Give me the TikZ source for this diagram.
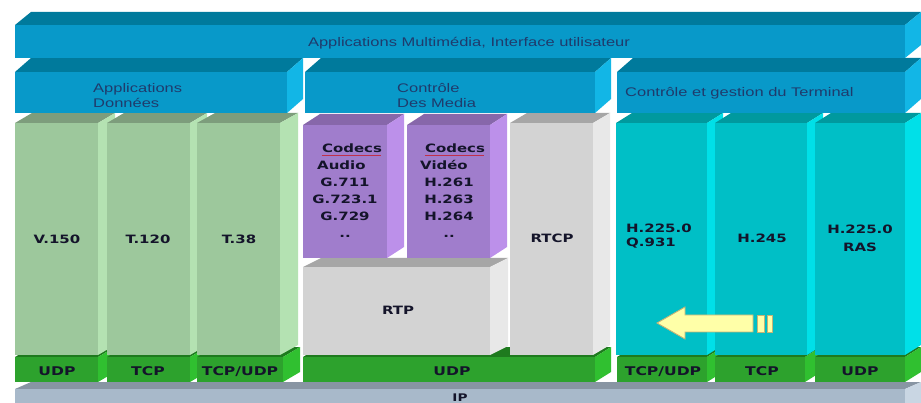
\documentclass[tikz,border=0pt]{standalone}
\usepackage{fontspec}
\newfontfamily\tlab[FakeStretch=1.32]{Liberation Sans}
\newfontfamily\blab[FakeStretch=1.3]{DejaVu Sans}
\definecolor{bluef}{HTML}{0899C9}
\definecolor{bluet}{HTML}{007A9C}
\definecolor{blues}{HTML}{12B6E6}
\definecolor{lgrf}{HTML}{9DC89C}
\definecolor{lgrt}{HTML}{7D9D7C}
\definecolor{lgrs}{HTML}{B4E2B2}
\definecolor{purf}{HTML}{A07DCC}
\definecolor{purt}{HTML}{8767AA}
\definecolor{purs}{HTML}{BC90EA}
\definecolor{gryf}{HTML}{D3D3D3}
\definecolor{gryt}{HTML}{A6A6A6}
\definecolor{grys}{HTML}{E8E8E8}
\definecolor{cyaf}{HTML}{00BFC6}
\definecolor{cyat}{HTML}{00999E}
\definecolor{cyas}{HTML}{00E0E8}
\definecolor{dgrf}{HTML}{2DA22D}
\definecolor{dgrt}{HTML}{1E7A1E}
\definecolor{dgrs}{HTML}{30C030}
\definecolor{ipf}{HTML}{A8B9CA}
\definecolor{ipt}{HTML}{8895A3}
\definecolor{ips}{HTML}{C9D6E3}
\definecolor{navy}{HTML}{1F3B6C}
\definecolor{ink}{HTML}{14142A}
\definecolor{arrowfill}{HTML}{FFFFA8}
\definecolor{arrowline}{HTML}{C4B478}
\definecolor{spell}{HTML}{C0304A}
% 3D slab: x1,y1,x2,y2 (front face), dx,dy (depth), palette
\newcommand\slab[7]{%
  \fill[#7t] (#1,#2) -- ({#1+#5},{#2-#6}) -- ({#3+#5},{#2-#6}) -- (#3,#2) -- cycle;
  \fill[#7s] (#3,#2) -- ({#3+#5},{#2-#6}) -- ({#3+#5},{#4-#6}) -- (#3,#4) -- cycle;
  \fill[#7f] (#1,#2) rectangle (#3,#4);
}
\tikzset{
  tl/.style={font=\tlab\fontsize{12.5}{14}\selectfont, text=navy, inner sep=0pt, anchor=base west},
  bl/.style={font=\blab\bfseries\fontsize{11.5}{13}\selectfont, text=ink, inner sep=0pt, anchor=base},
  gl/.style={bl, font=\blab\bfseries\fontsize{12}{13}\selectfont},
}
\begin{document}
\begin{tikzpicture}[x=1pt,y=-1pt]
\useasboundingbox (0,0) rectangle (921,403);
\clip (0,0) rectangle (921,403);
\fill[white] (0,0) rectangle (921,403);
% IP layer
\slab{15}{389}{905}{420}{16}{7}{ip}
% transport layer
\slab{15}{357}{98}{382}{17}{10}{dgr}
\slab{107}{357}{190}{382}{17}{10}{dgr}
\slab{197}{357}{283}{382}{17}{10}{dgr}
\slab{303}{357}{595}{382}{16}{10}{dgr}
\slab{617}{357}{707}{382}{16}{10}{dgr}
\slab{715}{357}{805}{382}{16}{10}{dgr}
\slab{815}{357}{905}{382}{16}{10}{dgr}
% data columns
\slab{15}{123}{98}{355}{17}{10}{lgr}
\slab{107}{123}{190}{355}{17}{10}{lgr}
\slab{197}{123}{280}{355}{18}{10}{lgr}
% media
\slab{303}{267}{490}{355}{18}{9}{gry}
\slab{303}{125}{387}{258}{17}{11}{pur}
\slab{407}{125}{490}{258}{17}{11}{pur}
\slab{510}{123}{593}{355}{17}{10}{gry}
% terminal
\slab{616}{123}{707}{355}{16}{10}{cya}
\slab{715}{123}{807}{355}{16}{10}{cya}
\slab{815}{123}{905}{355}{16}{10}{cya}
% row 2
\slab{15}{72}{287}{113}{16}{14}{blue}
\slab{305}{72}{595}{113}{16}{14}{blue}
\slab{617}{72}{905}{113}{16}{14}{blue}
% row 1
\slab{15}{25}{905}{58}{16}{13}{blue}

% top labels
\node[tl, anchor=base] (appmm) at (469,47) {Applications Multimédia, Interface utilisateur};
\node[tl] (appdon1) at (93,93) {Applications};
\node[tl] (appdon2) at (93,108) {Données};
\node[tl] (ctrl1) at (397,93) {Contrôle};
\node[tl] (ctrl2) at (397,108) {Des Media};
\node[tl] (term) at (625,97) {Contrôle et gestion du Terminal};

% data labels
\node[bl] (v150) at (57,244) {V.150};
\node[bl] (t120) at (148,244) {T.120};
\node[bl] (t38) at (239,244) {T.38};

% codecs audio
\node[bl] (ca1) at (352,153) {Codecs};
\node[bl, anchor=base west] (ca2) at (317,170) {Audio};
\node[bl] (ca3) at (345,187) {G.711};
\node[bl] (ca4) at (345,204) {G.723.1};
\node[bl] (ca5) at (345,221) {G.729};
\node[bl] (ca6) at (345,238) {..};
\draw[spell, line width=0.7pt] (ca1.south west) ++(0,1.5) -- ++(59,0);
% codecs video
\node[bl] (cv1) at (455,153) {Codecs};
\node[bl, anchor=base west] (cv2) at (420,170) {Vidéo};
\node[bl] (cv3) at (449,187) {H.261};
\node[bl] (cv4) at (449,204) {H.263};
\node[bl] (cv5) at (449,221) {H.264};
\node[bl] (cv6) at (449,238) {..};
\draw[spell, line width=0.7pt] (cv1.south west) ++(0,1.5) -- ++(59,0);

\node[bl] (rtcp) at (552,243) {RTCP};
\node[bl] (rtp) at (398,315) {RTP};

% terminal labels
\node[bl, anchor=base west] (h2250a) at (626,233) {H.225.0};
\node[bl, anchor=base west] (q931) at (626,247) {Q.931};
\node[bl] (h245) at (762,243) {H.245};
\node[bl] (h2250b) at (860,234) {H.225.0};
\node[bl] (ras) at (860,252) {RAS};

% transport labels
\node[gl] (udp1) at (57,375) {UDP};
\node[gl] (tcp1) at (148,375) {TCP};
\node[gl] (tcpudp1) at (240,375) {TCP/UDP};
\node[gl] (udp2) at (452,375) {UDP};
\node[gl] (tcpudp2) at (663,375) {TCP/UDP};
\node[gl] (tcp2) at (762,375) {TCP};
\node[gl] (udp3) at (860,375) {UDP};
\node[gl, font=\blab\bfseries\fontsize{10.5}{12}\selectfont] (ip) at (460,401.5) {IP};

% arrow
\filldraw[fill=arrowfill, draw=arrowline, line width=0.9pt]
  (657,323) -- (685,307) -- (685,315) -- (753,315) -- (753,332) -- (685,332) -- (685,339) -- cycle;
\filldraw[fill=arrowfill, draw=arrowline, line width=0.9pt] (757,315) rectangle (764,332);
\filldraw[fill=arrowfill, draw=arrowline, line width=0.9pt] (767,315) rectangle (772,332);
\end{tikzpicture}
\end{document}
